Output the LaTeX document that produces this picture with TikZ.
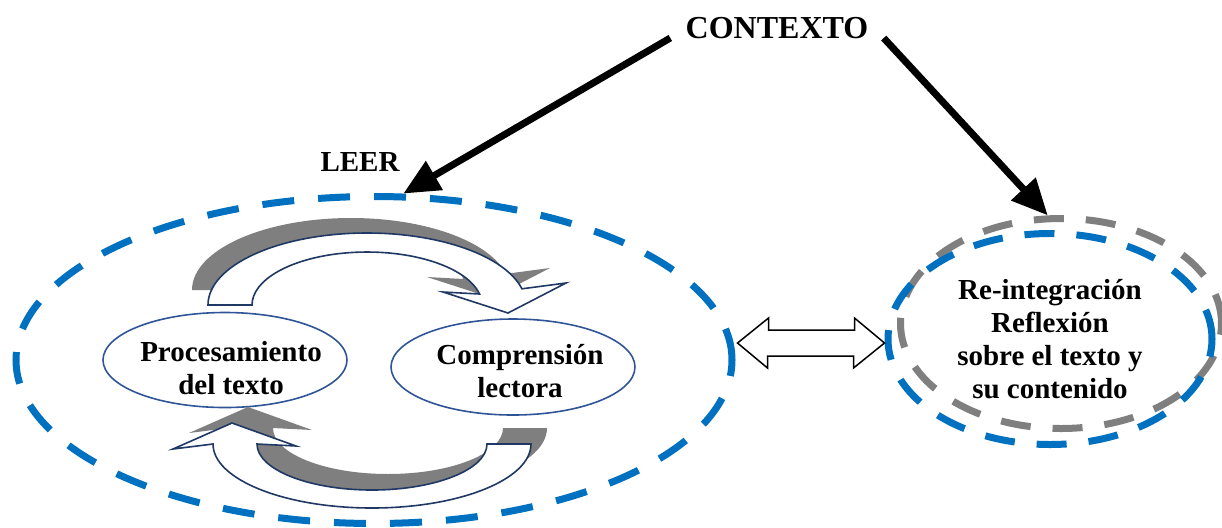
\documentclass[tikz,border=0pt]{standalone}
\usepackage{fontspec}
\setmainfont{Liberation Serif}
\usetikzlibrary{arrows.meta,shapes.geometric}
\definecolor{azul}{HTML}{0070C0}
\definecolor{gris}{HTML}{7F7F7F}
\definecolor{marino}{HTML}{1F3864}
\definecolor{contorno}{HTML}{2F5597}

\begin{document}
\begin{tikzpicture}[x=0.5pt, y=-0.5pt, >={Triangle[length=18pt,width=16pt]},
    texto/.style={font=\bfseries\fontsize{14.5}{16.5}\selectfont, align=center},
    burbuja/.style={ellipse, draw=contorno, line width=0.8pt, inner sep=0pt},
    anillo/.style={ellipse, line width=3.5pt, dash pattern=on 15pt off 11pt, inner sep=0pt},
    flecha/.style={fill=white, draw=marino, line width=0.8pt, line join=miter},
    sombra/.style={fill=gris},
    empuje/.style={->, line width=3.5pt}]
    \useasboundingbox (0,0) rectangle (1222,527);

    % Zona de lectura
    \node[anillo, draw=azul, dash pattern=on 16pt off 12pt,
          minimum width=358pt, minimum height=163.5pt] (lectura) at (374,360) {};
    \node[texto] (leer) at (360,162) {LEER};
    \node[texto, font=\bfseries\fontsize{16}{18}\selectfont, inner sep=7.5pt] (contexto) at (777,28) {CONTEXTO};

    % Burbujas internas
    \node[burbuja, minimum width=122pt, minimum height=47.5pt] (proc) at (225,360) {};
    \node[texto] (proctxt) at ([shift={(6,8)}]proc.center) {Procesamiento\\del texto};
    \node[burbuja, minimum width=122pt, minimum height=48pt] (compr) at (513,367) {};
    \node[texto] (comprtxt) at ([shift={(7,4)}]compr.center) {Comprensión\\lectora};

    % Reflexion (dos anillos)
    \node[anillo, draw=gris, minimum width=160.5pt, minimum height=105pt] (halo) at (1061,323.5) {};
    \node[anillo, draw=azul, texto, minimum width=162pt, minimum height=105.5pt] (reflex) at (1050,339)
        {Re-integración\\Reflexión\\sobre el texto y\\su contenido};

    % Flechas curvas con sombra.
    % Uso: \giroarriba{opciones}, \giroabajo{opciones}
    \newcommand{\giroarriba}[1]{
        \path[#1] (208,305) arc[start angle=180, end angle=13, x radius=79.5pt, y radius=36pt]
            -- (566,283) -- (508,313) -- (443,292) -- (479.5,294)
            arc[start angle=12, end angle=180, x radius=57.5pt, y radius=26.5pt] -- cycle;
    }
    \newcommand{\giroabajo}[1]{
        \path[#1] (531,444) arc[start angle=0, end angle=-180, x radius=79.5pt, y radius=32pt]
            -- (173,449) -- (232,423) -- (296,446) -- (257,444)
            arc[start angle=180, end angle=360, x radius=57.5pt, y radius=23pt] -- cycle;
    }
    \giroarriba{sombra, shift={(-16,-15)}}
    \giroarriba{flecha}
    \giroabajo{sombra, shift={(16,-16)}}
    \giroabajo{flecha}

    % Contexto hacia ambos lados
    \draw[empuje] ([yshift=-5pt]contexto.west) -- (lectura.80);
    \draw[empuje] ([yshift=-5pt]contexto.east) -- (halo.97);

    % Flecha doble entre lectura y reflexion
    \coordinate (da) at ([xshift=1pt,yshift=8.5pt]lectura.east);
    \coordinate (db) at ([yshift=-2pt]reflex.west);
    \draw[line width=0.75pt, fill=white, line join=miter] (da) -- ++(31,-25) -- ++(0,12) -- ++(86,0)
        -- ++(0,-12) -- (db) -- ++(-31,25) -- ++(0,-12) -- ++(-86,0) -- ++(0,12) -- cycle;
\end{tikzpicture}
\end{document}
